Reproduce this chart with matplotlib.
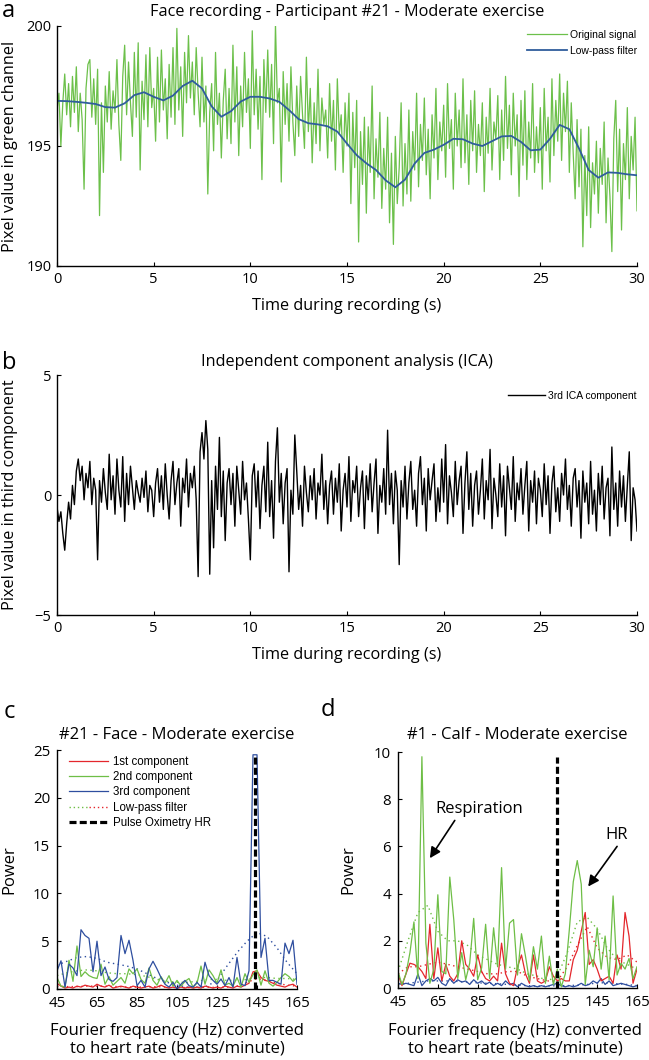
import numpy as np
import matplotlib
matplotlib.use("Agg")
import matplotlib.pyplot as plt
from matplotlib.lines import Line2D
from matplotlib.legend_handler import HandlerTuple

W, H = 649, 1060

# ---- panel a: face recording, green channel (10 samples per second) ----
green_signal = [
    196.5, 197.2, 195.0, 196.8, 198.0, 196.3, 197.6, 195.8, 197.9, 196.4,
    198.3, 195.6, 197.2, 196.1, 193.2, 197.4, 198.4, 198.6, 196.2, 197.8,
    195.9, 198.2, 192.1, 196.8, 193.9, 197.5, 196.0, 198.1, 195.7, 197.3,
    196.4, 198.6, 195.9, 194.4, 197.9, 199.2, 196.3, 198.5, 196.8, 195.4,
    198.9, 196.2, 199.3, 194.0, 197.7, 196.1, 198.8, 195.8, 199.1, 196.6,
    197.4, 195.2, 198.7, 196.0, 199.0, 196.5, 197.8, 195.3, 198.4, 196.2,
    199.1, 195.9, 199.9, 196.5, 198.3, 195.4, 198.9, 196.8, 199.6, 197.0,
    198.5, 196.3, 199.1, 197.2, 195.8, 198.7, 196.0, 197.5, 193.0, 196.4,
    197.6, 194.8, 198.9, 195.9, 197.2, 194.5, 196.9, 198.2, 195.3, 197.4,
    195.1, 199.2, 196.0, 198.3, 194.6, 197.5, 195.8, 198.9, 196.4, 197.8,
    194.9, 199.8, 196.3, 198.2, 195.7, 197.9, 193.6, 198.6, 196.4, 199.0,
    196.2, 198.4, 195.1, 200.1, 196.8, 197.4, 193.5, 198.1, 195.9, 197.6,
    195.2, 198.3, 196.0, 194.6, 197.5, 195.4, 197.9, 196.3, 194.9, 198.7,
    195.6, 197.4, 194.3, 196.8, 195.1, 198.2, 194.8, 197.0, 195.9, 196.5,
    194.5, 197.6, 195.2, 196.9, 194.0, 197.8, 195.5, 196.3, 193.9, 196.8,
    195.0, 197.2, 192.6, 196.4, 194.1, 196.9, 191.0, 195.6, 193.4, 196.2,
    192.2, 195.8, 193.9, 197.5, 192.8, 195.3, 193.7, 196.4, 192.4, 194.9,
    193.2, 196.2, 191.8, 194.7, 190.9, 195.4, 192.6, 194.1, 196.8, 192.5,
    195.1, 193.0, 196.5, 192.7, 195.6, 194.0, 197.2, 193.3, 195.9, 194.4,
    197.0, 193.8, 195.7, 192.8, 196.3, 194.5, 197.4, 193.6, 196.0, 194.8,
    196.7, 193.7, 197.6, 194.9, 196.1, 193.2, 197.2, 195.0, 196.5, 194.1,
    197.8, 194.3, 196.3, 193.4, 196.9, 194.8, 197.3, 193.9, 195.9, 194.6,
    196.8, 193.1, 196.2, 194.7, 197.4, 194.0, 196.0, 195.3, 197.1, 193.6,
    196.5, 194.4, 197.9, 194.9, 196.7, 193.8, 197.2, 195.0, 196.3, 192.9,
    196.9, 194.2, 197.3, 193.6, 196.0, 194.5, 197.6, 193.9, 195.8, 194.3,
    196.6, 193.2, 197.4, 194.8, 196.2, 193.5, 197.8, 194.6, 196.9, 195.2,
    198.0, 194.4, 197.2, 195.6, 197.7, 193.9, 196.8, 194.7, 192.8, 196.1,
    193.3, 195.7, 190.8, 194.6, 192.1, 195.8, 191.6, 194.3, 193.0, 195.2,
    192.2, 194.9, 193.4, 196.0, 191.8, 194.5, 192.9, 190.6, 195.3, 196.9,
    193.1, 195.7, 191.5, 195.1, 193.6, 196.6, 192.8, 195.4, 194.0, 196.2,
    192.3,
]

# low-pass filtered signal (every 0.5 s)
lowpass_signal = [
    196.88, 196.87, 196.84, 196.80, 196.75, 196.62, 196.60, 196.78, 197.12, 197.24,
    197.05, 196.90, 197.10, 197.50, 197.72, 197.40, 196.65, 196.22, 196.45, 196.85,
    197.05, 197.05, 196.98, 196.84, 196.50, 196.12, 195.95, 195.90, 195.82, 195.60,
    195.10, 194.62, 194.28, 194.00, 193.57, 193.28, 193.60, 194.27, 194.71, 194.85,
    195.05, 195.30, 195.28, 195.10, 195.00, 195.20, 195.40, 195.42, 195.17, 194.82,
    194.85, 195.30, 195.88, 195.70, 194.90, 194.00, 193.68, 193.90, 193.88, 193.82,
    193.78,
]

# ---- panel b: third ICA component (10 samples per second) ----
ica_third = [
    -0.5, -1.1, -0.7, -1.6, -2.3, -1.2, -0.3, -1.0, 0.4, -0.4,
    1.0, 1.5, 0.6, 1.2, -0.2, 0.9, 0.3, 1.4, -0.4, 0.7,
    0.2, -2.7, 0.6, -0.3, 1.1, 0.1, -0.6, 1.7, -0.2, 0.8,
    -0.8, 1.5, 0.2, -0.5, 1.6, -1.1, 0.9, -0.4, 1.2, 0.3,
    -0.6, 0.6, 0.1, -0.3, 0.7, -0.1, 1.0, -0.7, 0.4, 0.2,
    -0.9, 0.5, 1.1, -0.3, 0.8, -0.6, 1.3, 0.0, -1.0, 0.6,
    1.4, -0.4, 0.5, 1.1, -1.3, 0.7, 0.1, 1.5, -0.5, 0.9,
    0.3, 1.2, -0.2, -3.4, 1.8, 2.6, 1.5, 3.1, 1.9, -3.3,
    0.6, -2.2, 1.2, -0.6, 2.4, -0.9, 1.0, -1.9, 0.5, 1.1,
    -0.4, 0.9, -1.3, 1.2, 0.2, -0.8, 1.4, -0.2, 0.5, -1.0,
    -2.7, 0.8, 1.3, -0.5, 1.0, -1.4, 0.4, 1.2, -0.7, 2.2,
    -0.9, 0.6, -1.8, 1.4, 2.8, -0.3, 0.9, -1.2, 0.5, 1.1,
    -3.2, 0.2, -0.8, 2.5, 1.0, -0.6, 0.4, -1.3, 1.2, 0.1,
    -0.7, 0.8, -0.2, 1.1, -1.0, 0.5, 0.0, 1.7, -0.6, 0.6,
    -1.2, 0.4, 1.0, -0.8, 0.7, -0.3, 1.3, -1.5, 0.2, 0.9,
    -0.5, 1.6, -1.1, 0.6, 0.1, 1.2, -0.9, 0.3, 1.0, -1.4,
    0.8, -0.2, 1.3, -0.7, 0.5, 1.5, -1.6, 0.4, -0.3, 1.1,
    -0.8, 2.7, -0.4, 0.9, -1.2, 1.0, 0.2, -2.9, 0.6, -0.5,
    1.2, -1.0, 0.5, 1.4, -0.6, 0.2, -1.3, 0.9, 1.6, -0.4,
    0.7, -1.5, 1.1, -0.2, 0.6, 1.3, -1.1, 0.3, -0.7, 1.5,
    -0.3, 2.1, -1.2, 0.8, 0.1, -0.9, 1.4, -0.4, 0.6, 1.2,
    -1.6, 0.5, 1.8, -0.6, 0.9, -1.3, 0.4, 1.0, -0.8, 0.2,
    1.5, -1.0, 0.6, -0.2, 1.9, -1.4, 0.7, 0.0, -0.9, 1.3,
    -0.5, 0.8, -1.7, 1.2, 0.3, -0.6, 1.6, -1.1, 0.5, -0.2,
    1.1, -0.8, 0.4, 1.4, -1.5, 0.6, -0.3, 1.0, -1.2, 0.7,
    0.2, -0.9, 1.3, -0.4, 0.8, -1.6, 0.5, 1.2, -0.7, 0.3,
    -1.1, 0.9, 0.0, 1.5, -0.6, 0.4, -1.3, 0.7, 1.1, -0.5,
    0.6, -1.8, 1.0, -0.3, 0.5, -1.2, 1.4, -0.8, 0.2, -1.5,
    0.9, -0.4, 1.2, -1.0, 0.3, 0.7, -1.7, 2.0, -0.6, 0.5,
    -1.3, 1.0, -0.5, 0.8, -1.1, 0.4, 1.8, -1.9, 0.3, -0.2,
    -1.5,
]

# ---- panels c/d: power spectra, 2 bpm resolution from 45 to 165 ----
c_first = [
    0.6, 0.3, 0.1, 0.2, 0.1, 0.3, 0.2, 0.4, 0.3, 0.2,
    0.5, 0.3, 0.2, 0.4, 0.1, 0.2, 0.3, 0.2, 0.1, 0.3,
    0.2, 0.1, 0.2, 0.3, 0.1, 0.2, 0.4, 0.2, 0.1, 0.2,
    0.1, 0.2, 0.1, 0.2, 0.1, 0.2, 0.1, 0.3, 0.2, 0.1,
    0.2, 0.1, 0.3, 0.2, 0.1, 0.3, 0.2, 0.4, 0.6, 1.8,
    1.9, 1.2, 0.9, 0.8, 0.6, 0.4, 0.3, 0.2, 0.4, 0.5,
    0.2,
]
c_second = [
    1.2, 0.3, 0.2, 3.0, 0.8, 4.5, 1.3, 1.8, 1.4, 1.2,
    1.1, 2.6, 0.5, 1.3, 0.4, 0.8, 1.2, 0.6, 2.1, 1.6,
    2.1, 1.0, 0.6, 2.2, 0.9, 0.4, 1.3, 0.6, 1.4, 0.3,
    0.9, 0.3, 0.8, 1.1, 0.2, 0.6, 2.4, 0.5, 2.0, 1.4,
    0.6, 2.0, 0.4, 0.6, 0.3, 1.2, 0.2, 1.6, 0.7, 1.5,
    2.0, 0.4, 1.9, 0.6, 0.3, 0.7, 1.2, 1.6, 1.3, 0.8,
    1.2,
]
c_third = [
    1.9, 2.95, 0.2, 2.6, 2.2, 1.4, 6.2, 5.6, 5.3, 1.8,
    5.0, 1.4, 2.3, 1.0, 0.8, 1.2, 5.6, 3.7, 5.1, 3.0,
    0.35, 0.9, 0.2, 2.1, 2.9, 2.1, 1.2, 0.5, 0.2, 0.7,
    0.0, 0.5, 0.9, 0.35, 0.2, 0.7, 0.2, 2.8, 1.4, 0.9,
    0.5, 1.05, 0.35, 1.2, 0.2, 3.3, 0.5, 0.35, 1.9, 24.5,
    24.5, 3.3, 5.3, 0.9, 0.9, 0.7, 0.5, 4.8, 3.7, 5.1,
    0.5,
]
# low-pass filtered spectra, every 5 bpm
c_lp_first = [0.3, 0.25, 0.25, 0.3, 0.3, 0.3, 0.25, 0.2, 0.2, 0.2, 0.25, 0.2, 0.15,
              0.15, 0.15, 0.2, 0.15, 0.2, 0.3, 0.7, 1.1, 0.9, 0.6, 0.4, 0.3]
c_lp_second = [1.4, 1.7, 1.9, 2.0, 1.9, 1.7, 1.6, 1.6, 1.5, 1.3, 1.0, 0.8, 0.7,
               0.7, 0.8, 1.0, 1.0, 0.9, 0.9, 1.0, 1.2, 1.2, 1.1, 1.1, 1.0]
c_lp_third = [2.5, 2.9, 3.3, 3.4, 3.2, 2.8, 2.6, 2.4, 2.1, 1.6, 1.1, 0.7, 0.4,
              0.2, 0.2, 0.3, 0.9, 2.4, 3.8, 5.0, 5.9, 5.5, 4.3, 2.8, 1.6]
c_hr, c_hr_top = 144, 24.5

d_first = [
    0.6, 0.1, 0.6, 1.05, 1.0, 0.9, 0.7, 0.4, 2.7, 0.4,
    1.7, 0.3, 1.0, 0.5, 0.3, 0.6, 2.0, 1.0, 0.8, 0.5,
    1.4, 0.7, 0.4, 0.3, 0.5, 0.3, 1.9, 0.6, 0.2, 0.1,
    0.9, 1.4, 0.6, 0.2, 1.4, 0.3, 0.2, 0.3, 0.9, 0.5,
    0.3, 0.4, 0.3, 0.3, 1.2, 1.6, 2.4, 3.2, 1.0, 1.2,
    0.8, 0.3, 0.4, 0.5, 0.2, 1.4, 0.8, 3.2, 2.2, 0.2,
    0.8,
]
d_second = [
    0.7, 0.15, 0.6, 1.5, 2.8, 0.4, 9.8, 1.9, 0.2, 0.8,
    3.95, 0.7, 0.6, 4.7, 2.9, 0.4, 1.5, 0.35, 1.05, 2.95,
    0.35, 0.85, 2.7, 0.4, 2.55, 0.9, 5.1, 0.8, 2.75, 2.9,
    0.55, 2.3, 1.35, 0.3, 1.75, 0.8, 2.2, 0.2, 1.35, 0.15,
    0.8, 0.05, 0.6, 2.45, 4.5, 5.4, 4.4, 0.15, 1.6, 0.9,
    2.55, 0.8, 2.2, 0.35, 3.9, 0.55, 1.05, 0.8, 1.25, 0.4,
    0.9,
]
d_third = [
    0.2, 0.15, 0.2, 0.15, 0.1, 0.6, 0.1, 0.3, 0.4, 0.3,
    0.45, 0.2, 0.1, 0.4, 0.2, 0.35, 0.25, 0.3, 0.15, 0.35,
    0.2, 0.3, 0.15, 0.25, 0.1, 0.2, 0.1, 0.3, 0.15, 0.2,
    0.05, 0.2, 0.1, 0.05, 0.1, 0.05, 0.1, 0.05, 0.1, 0.15,
    0.2, 0.1, 0.05, 0.1, 0.05, 0.1, 0.2, 0.1, 0.15, 0.3,
    0.2, 0.4, 0.15, 0.3, 0.1, 0.15, 0.2, 0.15, 0.1, 0.05,
    0.1,
]
d_lp_first = [0.6, 0.9, 0.9, 1.0, 1.1, 1.0, 0.9, 0.8, 0.7, 0.6, 0.6, 0.7, 0.7,
              0.5, 0.4, 0.3, 0.3, 0.9, 1.8, 2.6, 1.7, 1.3, 1.2, 1.4, 1.1]
d_lp_second = [0.7, 2.0, 3.2, 3.5, 2.4, 2.0, 2.0, 1.8, 1.4, 1.2, 1.0, 0.9, 0.8,
               0.6, 0.5, 0.3, 0.5, 1.5, 2.8, 3.0, 2.5, 1.7, 1.2, 1.0, 0.8]
d_lp_third = [0.15, 0.2, 0.25, 0.3, 0.3, 0.3, 0.28, 0.25, 0.22, 0.2, 0.18, 0.15, 0.12,
              0.1, 0.08, 0.08, 0.1, 0.1, 0.12, 0.15, 0.22, 0.22, 0.18, 0.15, 0.1]
d_hr, d_hr_top = 125, 9.8

t_fast = np.linspace(0, 30, len(green_signal))
t_slow = np.linspace(0, 30, len(lowpass_signal))
t_ica = np.linspace(0, 30, len(ica_third))
bpm = np.arange(45, 166, 2)
bpm_lp = np.arange(45, 166, 5)

GREEN_A = "#6cc04a"
BLUE_A = "#2f5d9c"
RED = "#e4262c"
GREEN = "#6ebe46"
BLUE = "#2e4e9f"

MAIN_FONT = ["Open Sans", "DejaVu Sans"]
LEG_FONT = ["Liberation Sans", "DejaVu Sans"]
plt.rcParams["font.family"] = MAIN_FONT

fig = plt.figure(figsize=(W / 100, H / 100), dpi=100)


def add_ax(left, top, right, bottom):
    return fig.add_axes([left / W, 1 - bottom / H, (right - left) / W, (bottom - top) / H])


def ftext(x, y, s, **kw):
    fig.text(x / W, 1 - y / H, s, ha=kw.pop("ha", "center"), va=kw.pop("va", "center"), **kw)


def style(ax, size, pad=4):
    for s in ["top", "right"]:
        ax.spines[s].set_visible(False)
    for s in ["left", "bottom"]:
        ax.spines[s].set_linewidth(1.0)
    ax.tick_params(direction="in", length=3, width=0.8, labelsize=size, pad=pad)


# panel a
ax_a = add_ax(57, 26, 637, 266)
ax_a.plot(t_fast, green_signal, color=GREEN_A, lw=0.9, label="Original signal")
ax_a.plot(t_slow, lowpass_signal, color=BLUE_A, lw=1.3, label="Low-pass filter")
ax_a.set_xlim(0, 30)
ax_a.set_ylim(190, 200)
ax_a.set_xticks([0, 5, 10, 15, 20, 25, 30])
ax_a.set_yticks([190, 195, 200])
style(ax_a, 10.5)
ax_a.legend(loc="upper right", bbox_to_anchor=(637 / W, 1 - 30 / H), bbox_transform=fig.transFigure,
            frameon=False, borderpad=0, borderaxespad=0, handlelength=3.8, handletextpad=0.3,
            labelspacing=0.55, prop={"family": LEG_FONT, "size": 7.5})
ftext(8, 11, "a", size=17)
ftext(347, 12, "Face recording - Participant #21 - Moderate exercise", size=11.7)
ftext(10, 146, "Pixel value in green channel", size=11.7, rotation=90)
ftext(347, 306, "Time during recording (s)", size=11.7)

# panel b
ax_b = add_ax(57, 375, 637, 615)
ax_b.plot(t_ica, ica_third, color="black", lw=1.0, label="3rd ICA component")
ax_b.set_xlim(0, 30)
ax_b.set_ylim(-5, 5)
ax_b.set_xticks([0, 5, 10, 15, 20, 25, 30])
ax_b.set_yticks([-5, 0, 5])
style(ax_b, 10.5)
ax_b.legend(loc="upper right", bbox_to_anchor=(637 / W, 1 - 391 / H), bbox_transform=fig.transFigure,
            frameon=False, borderpad=0, borderaxespad=0, handlelength=3.6, handletextpad=0.3,
            prop={"family": LEG_FONT, "size": 7.5})
ftext(9, 363, "b", size=17)
ftext(347, 362, "Independent component analysis (ICA)", size=11.7)
ftext(10, 495, "Pixel value in third component", size=11.7, rotation=90)
ftext(347, 655, "Time during recording (s)", size=11.7)

# panel c
dots = (0, (1, 2.5))
ax_c = add_ax(57, 750, 297, 989)
ax_c.plot(bpm_lp, c_lp_third, color=BLUE, lw=1.0, ls=dots)
ax_c.plot(bpm_lp, c_lp_second, color=GREEN, lw=1.0, ls=dots)
ax_c.plot(bpm_lp, c_lp_first, color=RED, lw=1.0, ls=dots)
ax_c.plot(bpm, c_first, color=RED, lw=0.9)
ax_c.plot(bpm, c_second, color=GREEN, lw=0.9)
ax_c.plot(bpm, c_third, color=BLUE, lw=0.9)
ax_c.vlines(c_hr, 0, c_hr_top, color="black", lw=2.3, linestyles=(0, (2.2, 1.0)))
ax_c.set_xlim(45, 165)
ax_c.set_ylim(0, 25)
ax_c.set_xticks(np.arange(45, 166, 20))
ax_c.set_yticks([0, 5, 10, 15, 20, 25])
style(ax_c, 10.8, pad=5)
h_red = Line2D([], [], color=RED, lw=0.9)
h_green = Line2D([], [], color=GREEN, lw=0.9)
h_blue = Line2D([], [], color=BLUE, lw=0.9)
h_lp = (Line2D([], [], color=GREEN, lw=1.0, ls=(0, (1, 2))), Line2D([], [], color=RED, lw=1.0, ls=(0, (1, 2))))
h_hr = Line2D([], [], color="black", lw=2.3, ls=(0, (2.2, 1.0)))
ax_c.legend([h_red, h_green, h_blue, h_lp, h_hr],
            ["1st component", "2nd component", "3rd component", "Low-pass filter", "Pulse Oximetry HR"],
            handler_map={tuple: HandlerTuple(ndivide=None, pad=0)},
            loc="upper left", bbox_to_anchor=(69 / W, 1 - 756 / H), bbox_transform=fig.transFigure,
            frameon=False, borderpad=0, borderaxespad=0, handlelength=3.4, handletextpad=0.45,
            labelspacing=0.28, prop={"family": LEG_FONT, "size": 8.3})
ftext(9, 712, "c", size=17)
ftext(177, 735, "#21 - Face - Moderate exercise", size=12)
ftext(9, 870, "Power", size=12, rotation=90)
ftext(177, 1040, "Fourier frequency (Hz) converted\nto heart rate (beats/minute)", size=12, linespacing=1.1)

# panel d
ax_d = add_ax(398, 752, 637, 988)
ax_d.plot(bpm_lp, d_lp_third, color=BLUE, lw=1.0, ls=dots)
ax_d.plot(bpm_lp, d_lp_second, color=GREEN, lw=1.0, ls=dots)
ax_d.plot(bpm_lp, d_lp_first, color=RED, lw=1.0, ls=dots)
ax_d.plot(bpm, d_third, color=BLUE, lw=0.9)
ax_d.plot(bpm, d_first, color=RED, lw=0.9)
ax_d.plot(bpm, d_second, color=GREEN, lw=0.9)
ax_d.vlines(d_hr, 0, d_hr_top, color="black", lw=2.3, linestyles=(0, (2.2, 1.0)))
ax_d.set_xlim(45, 165)
ax_d.set_ylim(0, 10)
ax_d.set_xticks(np.arange(45, 166, 20))
ax_d.set_yticks([0, 2, 4, 6, 8, 10])
style(ax_d, 10.8, pad=5)
arrow = dict(arrowstyle="-|>", color="black", lw=1.2, mutation_scale=16, shrinkA=0, shrinkB=0)
ax_d.text(86, 7.6, "Respiration", ha="center", va="center", size=12)
ax_d.annotate("", xy=(61, 5.5), xytext=(73.5, 7.1), arrowprops=arrow)
ax_d.text(155, 6.5, "HR", ha="center", va="center", size=12)
ax_d.annotate("", xy=(140.5, 4.3), xytext=(155, 6.0), arrowprops=arrow)
ftext(328, 710, "d", size=17)
ftext(517, 735, "#1 - Calf - Moderate exercise", size=12)
ftext(348, 870, "Power", size=12, rotation=90)
ftext(515, 1040, "Fourier frequency (Hz) converted\nto heart rate (beats/minute)", size=12, linespacing=1.1)

fig.savefig("out.png", dpi=100)
